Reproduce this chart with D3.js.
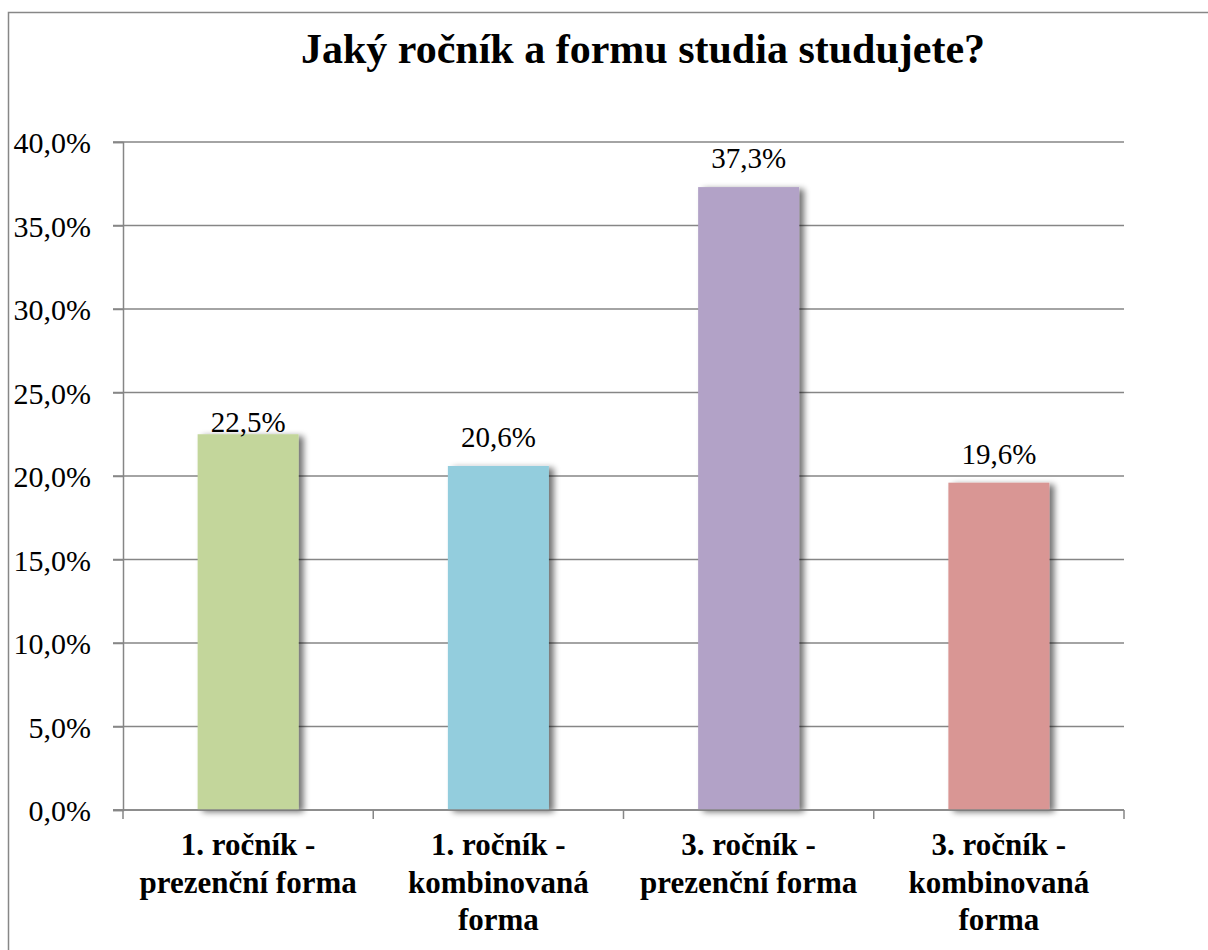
<!DOCTYPE html>
<html>
<head>
<meta charset="utf-8">
<script src="https://cdn.jsdelivr.net/npm/d3@7/dist/d3.min.js"></script>
<style>
  html, body { margin: 0; padding: 0; background: #fff; }
  svg { display: block; }
</style>
</head>
<body>
<svg id="chart" width="1208" height="950" font-family="Liberation Serif"></svg>
<script>
// Survey answers: year and form of study
const categories = [
  ["1. ročník -", "prezenční forma"],
  ["1. ročník -", "kombinovaná", "forma"],
  ["3. ročník -", "prezenční forma"],
  ["3. ročník -", "kombinovaná", "forma"]
];
const values = [22.5, 20.6, 37.3, 19.6];
const colors = ["#C3D69B", "#93CDDD", "#B2A2C7", "#D99694"];
const yTicks = [0, 5, 10, 15, 20, 25, 30, 35, 40];
const title = "Jaký ročník a formu studia studujete?";

const fmt = v => v.toFixed(1).replace(".", ",");
const SERIF = '"Liberation Serif", "Times New Roman", serif';

const svg = d3.select("#chart");
const W = 1208, H = 950;
const plot = { left: 123, right: 1124, top: 142, bottom: 810 };

// Drop shadow for the bars
const defs = svg.append("defs");
const f = defs.append("filter").attr("id", "shadow")
  .attr("x", "-20%").attr("y", "-20%").attr("width", "150%").attr("height", "140%");
f.append("feGaussianBlur").attr("in", "SourceAlpha").attr("stdDeviation", 3).attr("result", "b");
f.append("feOffset").attr("in", "b").attr("dx", 5).attr("dy", 2).attr("result", "o");
f.append("feComponentTransfer").attr("in", "o").attr("result", "s")
  .append("feFuncA").attr("type", "linear").attr("slope", 0.55);
const m = f.append("feMerge");
m.append("feMergeNode").attr("in", "s");
m.append("feMergeNode").attr("in", "SourceGraphic");

// Outer chart border
svg.append("rect")
  .attr("x", 8.5).attr("y", 12.5).attr("width", W + 10).attr("height", H + 10)
  .attr("fill", "#fff").attr("stroke", "#878787").attr("stroke-width", 1.5);

// Title
svg.append("text")
  .attr("x", 643).attr("y", 63)
  .attr("text-anchor", "middle")
  .style("font-family", SERIF).style("font-weight", "bold").attr("font-size", 42)
  .attr("fill", "#000")
  .text(title);

const x = d3.scaleBand()
  .domain(d3.range(categories.length))
  .range([plot.left, plot.right])
  .paddingInner(0).paddingOuter(0);

const y = d3.scaleLinear().domain([0, 40]).range([plot.bottom, plot.top]);

// Horizontal gridlines
svg.append("g").selectAll("line").data(yTicks).join("line")
  .attr("x1", plot.left - 10).attr("x2", plot.right)
  .attr("y1", d => y(d)).attr("y2", d => y(d))
  .attr("stroke", "#868686").attr("stroke-width", 1.5);

// Y axis
const yAxis = d3.axisLeft(y).tickValues(yTicks).tickFormat(d => fmt(d) + "%").tickSize(10).tickPadding(22);
const gy = svg.append("g").attr("transform", `translate(${plot.left},0)`).call(yAxis);
gy.attr("font-family", "Liberation Serif").attr("font-size", 30);
gy.select(".domain").attr("stroke", "#868686").attr("stroke-width", 1.5);
gy.selectAll(".tick line").attr("stroke", "#868686").attr("stroke-width", 1.5);
gy.selectAll(".tick text")
  .style("font-family", SERIF).attr("fill", "#000")
  .attr("dy", "0.35em");

// Bars
const barW = 101;
svg.append("g").selectAll("rect").data(values).join("rect")
  .attr("x", (d, i) => x(i) + x.bandwidth() / 2 - barW / 2)
  .attr("y", d => y(d))
  .attr("width", barW)
  .attr("height", d => y(0) - y(d))
  .attr("fill", (d, i) => colors[i])
  .attr("filter", "url(#shadow)");

// X axis baseline with category boundary ticks
svg.append("line")
  .attr("x1", plot.left - 10).attr("x2", plot.right)
  .attr("y1", y(0)).attr("y2", y(0))
  .attr("stroke", "#868686").attr("stroke-width", 1.5);
const bounds = d3.range(categories.length + 1).map(i => plot.left + i * x.step());
svg.append("g").selectAll("line").data(bounds).join("line")
  .attr("x1", d => d).attr("x2", d => d)
  .attr("y1", y(0)).attr("y2", y(0) + 9)
  .attr("stroke", "#868686").attr("stroke-width", 1.5);

// Value labels above the bars (the first one sits tight to its bar)
svg.append("g").selectAll("text").data(values).join("text")
  .attr("x", (d, i) => x(i) + x.bandwidth() / 2)
  .attr("y", (d, i) => y(d) - (i === 0 ? 2 : 19))
  .attr("text-anchor", "middle")
  .style("font-family", SERIF).attr("font-size", 29).attr("fill", "#000")
  .text(d => fmt(d) + "%");

// Category labels
const cat = svg.append("g").selectAll("text").data(categories).join("text")
  .attr("x", (d, i) => x(i) + x.bandwidth() / 2)
  .attr("y", 855)
  .attr("text-anchor", "middle")
  .style("font-family", SERIF).style("font-weight", "bold").attr("font-size", 31)
  .attr("fill", "#000");
cat.selectAll("tspan").data(d => d).join("tspan")
  .attr("x", function () { return this.parentNode.getAttribute("x"); })
  .attr("dy", (d, i) => i === 0 ? 0 : 37.5)
  .text(d => d);
</script>
</body>
</html>
